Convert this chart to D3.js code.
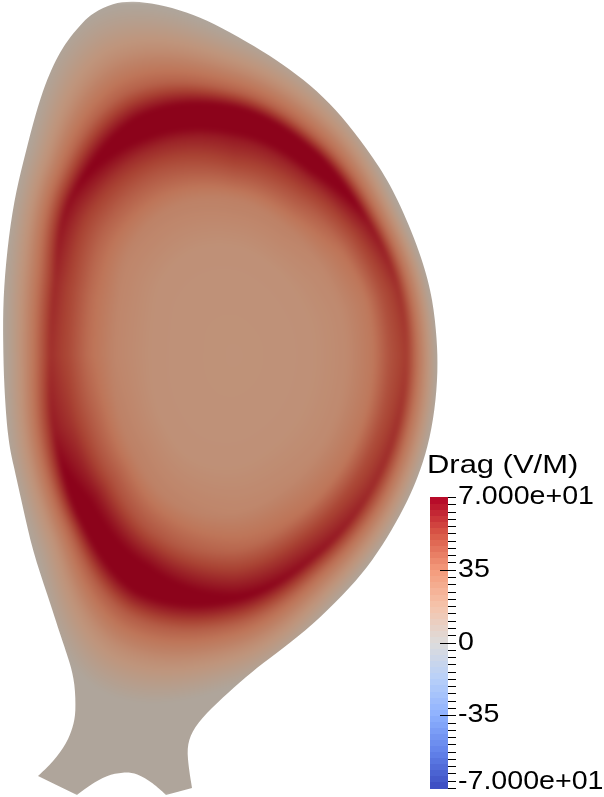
<!DOCTYPE html>
<html><head><meta charset="utf-8">
<style>html,body{margin:0;padding:0;background:#fff}#wrap{position:relative;width:604px;height:797px}canvas,svg{position:absolute;left:0;top:0}</style>
<script src="https://cdn.jsdelivr.net/npm/d3@7"></script></head>
<body><div id="wrap"><canvas id="field" width="604" height="797"></canvas><svg id="legend" width="604" height="797"></svg></div>
<script>
// Boundary of the domain (R, Z in tenths of picture units, Z downward), in smooth stretches between corners
const outerR=[3.8,5.3,6.7,7.3,7.6,7.5,7,6.2,4.7,3.3,2.2,1.3,0.8,0.4,0.3,0.3,0.7,1.4,2.3,3.3,4.3,5.2,6,7,8.3,9.3,11.3,13.3,15.7,18.7,21.3,24.7,27.7,30.3,33,35.3,38,40,42.3,43.3,43.7,43.8,43.5,42.8,41.8,40.8,39.2,37.3,35,32,29,26.3,24,21.7,19.7,18.8,18.7,19.2];
const outerZ=[77.6,76.2,74.3,72.7,71.3,68.3,66.3,64,59.3,55.3,50.3,46.3,44,38.7,34,30,25,20,16.3,12.3,9,6.8,5.2,3.7,2.2,1.3,0.3,0.1,0.4,1.2,2.3,4.2,6,7.9,10.3,13,16.7,20.3,26,30,34,37,41,44.7,47.7,50,53,56,58.8,61.8,64.3,66.3,68.2,70.3,72.3,74,75.7,78.8];
const footR=[16.6,15.3,13.7,12.3,10.7,9,7.7];
const footZ=[79.5,78.3,77.3,77.2,77.5,78.5,79.5];
// Field table: axis, direction (deg, screen clockwise from +R), ridge and zero-field radii, values
const axisR=23.4, axisZ=35.5;
const angles=[0,22.5,45,67.5,90,112.5,135,157.5,180,202.5,225,247.5,270,292.5,315,337.5];
const ridgeRadius=[17.2,17.7,19.2,21.5,24.3,24.5,21.8,19.5,18.4,19.4,22.8,24.7,24,21.2,18.9,17.7];
const edgeRadius=[20.3,21.2,23.3,26.8,33,36,28.2,24.5,23.1,24.8,29.4,36.9,32.2,27.2,22.6,20.8];
const fieldRows=[
 [19,20,24,33,47,55,38,22,9,2],
 [19,20,24,33,48,58,38,22,9,2],
 [19,20,24,34,50,60,40,22,9,2],
 [19,20,25,36,53,66,40,22,9,2],
 [19,20,26,40,56,72,42,22,9,2],
 [19,20,28,46,65,82,44,22,9,2],
 [19,20,29,48,65,78,42,20,8,2],
 [19,20,28,44,56,64,40,20,8,2],
 [19,20,26,38,50,58,38,20,8,2],
 [19,20,26,38,50,60,38,20,8,2],
 [19,20,27,42,54,68,40,20,8,2],
 [19,20,28,46,60,80,42,22,9,2],
 [19,20,29,52,64,84,42,22,9,2],
 [19,20,28,46,60,82,42,22,9,2],
 [19,20,25,37,52,66,40,22,9,2],
 [19,20,24,33,48,58,38,22,9,2]];
const knots=[0,0.45,0.65,0.8,0.9,1,1.3,1.6,1.85,2];
const coolwarmStops=["#3b4cc0","#6282ea","#8db0fe","#b8d0f9","#dddcdc","#f5c4ac","#f49a7b","#d95847","#b40426"];
const stopValues=[-70,-52.5,-35,-17.5,0,17.5,35,52.5,70];
const lighting=[0.78,0.76,0.72];
// Legend
const legendTicks=[-70,-35,0,35,70];
const tickLabels=["-7.000e+01","-35","0","35","7.000e+01"];
const minorTicks=d3.range(-70,70.01,3.5);
const legendTitle="Drag (V/M)";

const w=604,h=797;
const xS=d3.scaleLinear().domain([0,60.4]).range([0,w]);
const yS=d3.scaleLinear().domain([0,79.7]).range([0,h]);
const colour=d3.scaleLinear().domain(stopValues).range(coolwarmStops).clamp(true);
const knotPos=d3.scaleLinear().domain(knots).range(d3.range(knots.length)).clamp(true);
const n=angles.length;
function smoothPeriodic(arr,i,f){
  const p0=arr[(i+n-1)%n],p1=arr[i],p2=arr[(i+1)%n],p3=arr[(i+2)%n];
  return 0.5*(2*p1+(p2-p0)*f+(2*p0-5*p1+4*p2-p3)*f*f+(3*p1-p0-3*p2+p3)*f*f*f);
}
function fieldAt(px,py){
  const dx=xS.invert(px)-axisR,dz=yS.invert(py)-axisZ;
  const r=Math.hypot(dx,dz);
  let a=Math.atan2(dz,dx)*180/Math.PI; if(a<0)a+=360;
  const fa=a/(360/n),i0=Math.floor(fa)%n,i1=(i0+1)%n,f=fa-Math.floor(fa);
  const ridge=smoothPeriodic(ridgeRadius,i0,f);
  const edge=smoothPeriodic(edgeRadius,i0,f);
  const s=r<=ridge?r/ridge:1+(r-ridge)/(edge-ridge);
  const k=knotPos(Math.min(s,2)),j=Math.min(Math.floor(k),knots.length-2),g=k-j;
  const v0=fieldRows[i0][j]*(1-g)+fieldRows[i0][j+1]*g;
  const v1=fieldRows[i1][j]*(1-g)+fieldRows[i1][j+1]*g;
  return v0*(1-f)+v1*f;
}
// paint field on an offscreen canvas, smooth it like a shaded mesh, then clip to the boundary
const off=document.createElement("canvas");off.width=w;off.height=h;
const octx=off.getContext("2d");const img=octx.createImageData(w,h);
for(let y=0;y<h;y++)for(let x=0;x<w;x++){
  const c=d3.rgb(colour(fieldAt(x,y)));const m=(y*w+x)*4;
  img.data[m]=c.r*lighting[0];img.data[m+1]=c.g*lighting[1];img.data[m+2]=c.b*lighting[2];img.data[m+3]=255;
}
octx.putImageData(img,0,0);
const ctx=document.getElementById("field").getContext("2d");
ctx.fillStyle="#fff";ctx.fillRect(0,0,w,h);
ctx.save();
ctx.beginPath();
// continuous path: a context wrapper turns each stretch's moveTo into a lineTo
const joined={moveTo:(x,y)=>ctx.lineTo(x,y),lineTo:(x,y)=>ctx.lineTo(x,y),
  bezierCurveTo:(a,b,c,d,e,f)=>ctx.bezierCurveTo(a,b,c,d,e,f),closePath(){}};
const curve=d3.line().x(d=>xS(d[0])).y(d=>yS(d[1])).curve(d3.curveBasis).context(joined);
curve(d3.zip(outerR,outerZ));
curve(d3.zip(footR,footZ));
ctx.closePath();
ctx.clip();
ctx.filter="blur(2px)";
ctx.drawImage(off,0,0);
ctx.restore();

// Legend
const svg=d3.select("#legend");
const barY=d3.scaleLinear().domain([-70,70]).range([788,497]);
const bandStep=140/48;
const bands=d3.range(-70,70-1e-6,bandStep);
svg.append("g").selectAll("rect").data(bands).join("rect")
 .attr("x",430).attr("width",18).attr("y",d=>barY(d+bandStep)).attr("height",d=>barY(d)-barY(d+bandStep)+0.5)
 .attr("fill",d=>colour(d+bandStep/2)).attr("shape-rendering","crispEdges");
svg.append("g").selectAll("line").data(minorTicks).join("line")
 .attr("x1",d=>legendTicks.slice(1,4).includes(d)?440:448).attr("x2",456)
 .attr("y1",d=>Math.round(barY(d))+0.5).attr("y2",d=>Math.round(barY(d))+0.5)
 .attr("stroke","#000").attr("stroke-width",1);
svg.append("g").selectAll("text").data(legendTicks).join("text")
 .attr("transform",d=>`translate(458,${barY(d)+(d===-70?0.7:7)}) scale(1.1,1)`)
 .attr("font-family","Liberation Sans").attr("font-size",26).attr("fill","#000")
 .text((d,i)=>tickLabels[i]);
svg.append("text").attr("transform","translate(427,472.5) scale(1.19,1)")
 .attr("font-family","Liberation Sans").attr("font-size",26).attr("fill","#000").text(legendTitle);
</script></body></html>
